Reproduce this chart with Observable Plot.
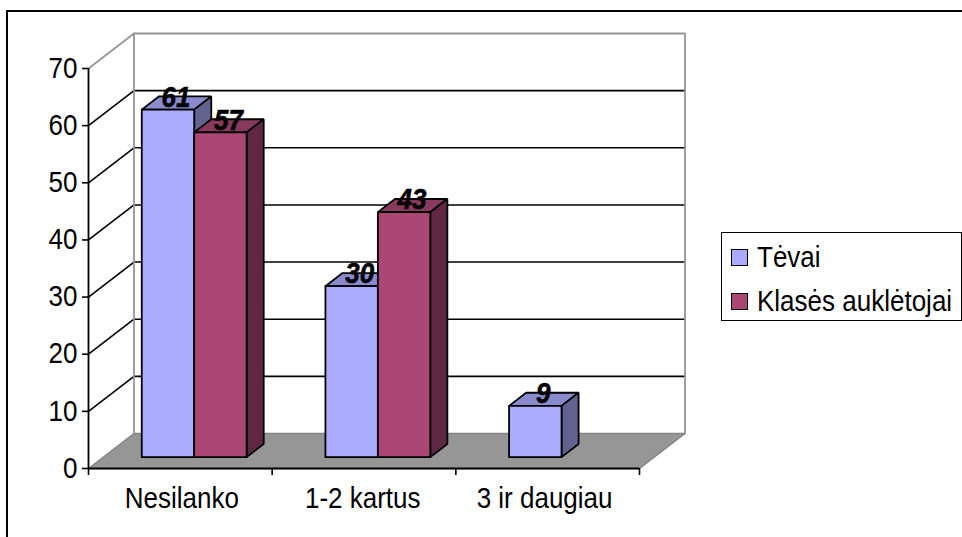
<!DOCTYPE html>
<html>
<head>
<meta charset="utf-8">
<script src="https://cdn.jsdelivr.net/npm/d3@7"></script>
<script src="https://cdn.jsdelivr.net/npm/@observablehq/plot@0.6"></script>
<style>
html,body{margin:0;padding:0;background:#fff;width:962px;height:537px;overflow:hidden}
#chart{position:relative;width:962px;height:537px;overflow:hidden;font-family:"Liberation Sans",Arial,sans-serif}
#chart svg{position:absolute;left:0;top:0;background:transparent}
#border{position:absolute;left:6px;top:10px;width:1000px;height:600px;border:2px solid #000;box-sizing:border-box}
#legend{position:absolute;left:721px;top:232px;width:241px;height:89px;box-sizing:border-box;border:1.5px solid #000;background:#fff;font-size:26px;color:#000}
.row{position:absolute;left:9px;display:flex;align-items:center;white-space:nowrap}
.sw{width:15px;height:15px;border:1.5px solid #000;margin-right:9px;flex:none}
.lbl{display:inline-block;transform:scaleY(1.1)}
</style>
</head>
<body>
<div id="chart"><div id="border"></div></div>
<script>
const categories = ["Nesilanko", "1-2 kartus", "3 ir daugiau"];
const seriesNames = ["Tėvai", "Klasės auklėtojai"];
const tevai = [61, 30, 9];
const klases = [57, 43, null];
const yTicks = [0, 10, 20, 30, 40, 50, 60, 70];

const frontColors = ["#AAABFF", "#AA4775"];
const topColors = ["#898BCC", "#883A5E"];
const sideColors = ["#62648F", "#602745"];

// Oblique depth of the box, in data units per full depth
const depthX = 0.2477, depthY = 6.125;
const barW = 0.2855, zFront = 0.325, zBack = 0.70, barK = 0.997, barShift = -0.005;
const P = (x, v, z) => ({x: x + z * depthX, y: v * barK + z * depthY});
const Q = (x, v, z) => ({x: x + z * depthX, y: v + z * depthY});

const polys = [];
let pid = 0;
function poly(points, fill) {
  const id = pid++;
  [...points, points[0]].forEach(p => polys.push({...p, id, fill}));
}
categories.forEach((c, i) => {
  [tevai, klases].forEach((vals, s) => {
    const v = vals[i];
    if (v == null) return;
    const x0 = i + 0.5 + barShift + (s - 1) * barW, x1 = x0 + barW;
    poly([P(x0, v, zFront), P(x1, v, zFront), P(x1, v, zBack), P(x0, v, zBack)], topColors[s]);
    poly([P(x1, 0, zFront), P(x1, v, zFront), P(x1, v, zBack), P(x1, 0, zBack)], sideColors[s]);
    poly([P(x0, 0, zFront), P(x1, 0, zFront), P(x1, v, zFront), P(x0, v, zFront)], frontColors[s]);
  });
});

const labels = [];
[tevai, klases].forEach((vals, s) => vals.forEach((v, i) => {
  if (v != null) labels.push({...P(i + 0.5 + barShift + (s - 0.5) * barW, v, zFront), v});
}));

const gridLines = yTicks.filter(v => v > 0 && v < 70).flatMap(v => [
  {...Q(0, v, 0), v}, {...Q(0, v, 1), v}, {...Q(3, v, 1), v}
]);
const wallLines = [Q(0, 70, 0), Q(0, 70, 1), Q(3, 70, 1), Q(3, 0, 1)];
const wallLeft = [Q(0, 70, 1), Q(0, 0, 1)];
const floor = [Q(0, 0, 0), Q(3, 0, 0), Q(3, 0, 1), Q(0, 0, 1), Q(0, 0, 0)];

const fontSize = 26;
const svg = Plot.plot({
  width: 962,
  height: 537,
  marginLeft: 88,
  marginRight: 323,
  marginTop: 68,
  marginBottom: 69,
  style: {background: "transparent", fontFamily: '"Liberation Sans",Arial,sans-serif', overflow: "visible"},
  x: {domain: [0, 3], axis: null},
  y: {domain: [0, 70], axis: null},
  marks: [
    Plot.line(gridLines, {x: "x", y: "y", z: "v", stroke: "#000", strokeWidth: 1.6}),
    Plot.line(wallLines, {x: "x", y: "y", stroke: "#969696", strokeWidth: 1.8}),
    Plot.line(wallLeft, {x: "x", y: "y", stroke: "#969696", strokeWidth: 1.8}),
    Plot.line(floor, {x: "x", y: "y", fill: "#969696", stroke: "#858585", strokeWidth: 1.5}),
    Plot.ruleX([0], {y1: 0, y2: 70, stroke: "#000", strokeWidth: 1.8}),
    Plot.ruleY([0], {x1: 0, x2: 3, stroke: "#000", strokeWidth: 2}),
    Plot.axisY({ticks: yTicks, tickSize: 6, tickPadding: 5, fontSize, stroke: "#000", strokeWidth: 1.6, strokeOpacity: 1, fill: "#000", label: null}),
    Plot.axisX({ticks: [0, 1, 2, 3], tickSize: 7, tickFormat: () => "", stroke: "#000", strokeWidth: 1.6, strokeOpacity: 1, label: null}),
    Plot.axisX({ticks: [0.5, 1.485, 2.475], tickSize: 0, tickPadding: 19, tickFormat: d => categories[Math.floor(d)], fontSize, fill: "#000", label: null, dx: 1.5}),
    Plot.line(polys, {x: "x", y: "y", z: "id", fill: "fill", stroke: "#000", strokeWidth: 1.8, strokeLinejoin: "miter"}),
    Plot.text(labels, {x: "x", y: "y", text: "v", dx: 8, dy: -12, fontSize: 26, fontWeight: "bold", fontStyle: "italic", fill: "#000", stroke: "#000", strokeWidth: 0.5})
  ]
});
svg.querySelectorAll("text").forEach(t => {
  const tr = t.getAttribute("transform");
  if (tr) t.setAttribute("transform", tr + " scale(1,1.1)");
});
const chart = document.getElementById("chart");
chart.appendChild(svg);

const legend = document.createElement("div");
legend.id = "legend";
seriesNames.forEach((name, i) => {
  const row = document.createElement("div");
  row.className = "row";
  row.style.top = (9 + i * 44) + "px";
  const sw = document.createElement("span");
  sw.className = "sw";
  sw.style.background = frontColors[i];
  const t = document.createElement("span");
  t.className = "lbl";
  t.textContent = name;
  row.append(sw, t);
  legend.appendChild(row);
});
chart.appendChild(legend);
</script>
</body>
</html>
